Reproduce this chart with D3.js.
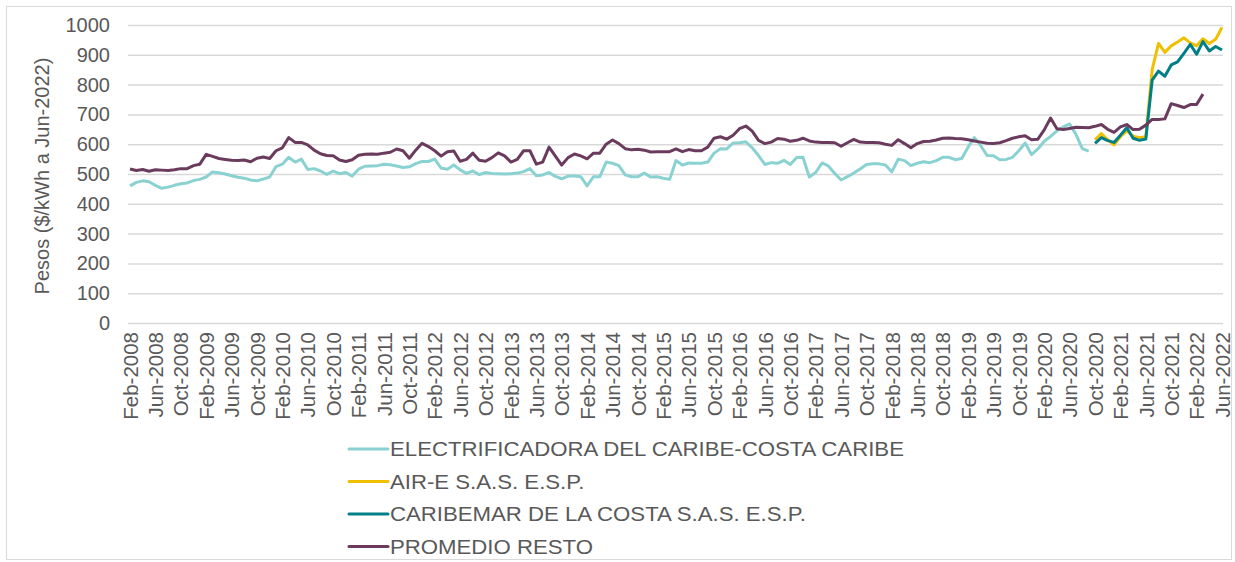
<!DOCTYPE html>
<html>
<head>
<meta charset="utf-8">
<script src="https://cdn.jsdelivr.net/npm/d3@7"></script>
<style>
  body { margin: 0; background: #fff; }
  text { font-family: "Liberation Sans", Arial, sans-serif; fill: #595959; }
</style>
</head>
<body>
<svg id="chart"></svg>
<script>
const width = 1235, height = 562;

// Monthly categories Feb-2008 .. Jun-2022
const monthNames = ["Jan", "Feb", "Mar", "Apr", "May", "Jun", "Jul", "Aug", "Sep", "Oct", "Nov", "Dec"];
const months = d3.timeMonth.range(new Date(2008, 1, 1), new Date(2022, 6, 1))
    .map(d => monthNames[d.getMonth()] + "-" + d.getFullYear());

const yTicks = [0, 100, 200, 300, 400, 500, 600, 700, 800, 900, 1000];

// ELECTRIFICADORA DEL CARIBE-COSTA CARIBE, from Feb-2008
const electricaribe = [
  460, 472, 477, 474, 462, 452, 456, 462, 467, 470, 478, 482, 490, 507, 504, 500,
  494, 489, 486, 480, 477, 483, 490, 525, 533, 556, 540, 550, 515, 518, 510, 499,
  510, 501, 505, 493, 516, 526, 527, 528, 533, 531, 527, 522, 524, 535, 542, 542,
  550, 520, 516, 530, 514, 502, 510, 498, 505, 502, 501, 500, 501, 503, 508, 518,
  494, 497, 505, 492, 484, 493, 493, 491, 460, 491, 491, 540, 536, 528, 497, 491,
  491, 503, 490, 491, 486, 482, 545, 530, 537, 536, 536, 540, 570, 585, 584, 604,
  605, 608, 588, 562, 532, 538, 536, 546, 532, 555, 556, 490, 505, 537, 527, 502,
  480, 491, 503, 517, 532, 534, 534, 530, 507, 550, 545, 528, 536, 541, 538, 545,
  556, 556, 548, 552, 590, 622, 595, 562, 561, 548, 549, 556, 578, 604, 565, 584,
  610, 626, 645, 658, 668, 633, 585, 577
];

// AIR-E S.A.S. E.S.P., from Oct-2020
const airE = [
  615, 636, 615, 598, 625, 645, 627, 622, 625, 850, 938, 908, 930, 943, 957, 940,
  930, 954, 938, 952, 992
];

// CARIBEMAR DE LA COSTA S.A.S. E.S.P., from Oct-2020
const caribemar = [
  603, 622, 612, 606, 630, 655, 620, 613, 617, 815, 845, 828, 866, 876, 905, 935,
  902, 944, 913, 928, 916
];

// PROMEDIO RESTO, from Feb-2008
const promedioResto = [
  517, 512, 515, 509, 514, 513, 512, 514, 518, 518, 528, 533, 566, 559, 552, 549,
  546, 545, 547, 541, 553, 557, 552, 578, 588, 622, 606, 606, 598, 580, 568, 562,
  561, 547, 542, 548, 563, 566, 567, 566, 570, 573, 584, 578, 553, 580, 603, 592,
  578, 560, 575, 577, 543, 549, 570, 546, 543, 555, 571, 561, 540, 549, 578, 578,
  533, 540, 590, 560, 530, 555, 567, 561, 551, 570, 570, 600, 614, 602, 585, 581,
  583, 580, 574, 575, 575, 575, 584, 575, 582, 578, 578, 590, 620, 625, 617, 630,
  652, 661, 644, 613, 602, 607, 619, 617, 610, 613, 620, 611, 607, 606, 606, 605,
  593, 605, 616, 607, 606, 606, 605, 600, 596, 615, 602, 588, 602, 609, 610, 614,
  620, 621, 619, 618, 615, 611, 607, 603, 602, 605, 612, 620, 625, 628, 615, 617,
  648, 688, 652, 649, 653, 657, 656, 655, 660, 666, 650, 640, 658, 666, 649, 650,
  664, 683, 683, 685, 736, 730, 723, 733, 733, 768
];

const series = [
  { name: "ELECTRIFICADORA DEL CARIBE-COSTA CARIBE", start: "Feb-2008", values: electricaribe, color: "#8ad2d2" },
  { name: "AIR-E S.A.S. E.S.P.", start: "Oct-2020", values: airE, color: "#efc000" },
  { name: "CARIBEMAR DE LA COSTA S.A.S. E.S.P.", start: "Oct-2020", values: caribemar, color: "#007f87" },
  { name: "PROMEDIO RESTO", start: "Feb-2008", values: promedioResto, color: "#6a3b5d" }
];

const svg = d3.select("#chart")
    .attr("width", width)
    .attr("height", height);

// chart frame
svg.append("rect")
    .attr("x", 6.5).attr("y", 6.5)
    .attr("width", width - 10).attr("height", height - 9)
    .attr("fill", "none")
    .attr("stroke", "#d9d9d9");

const plotLeft = 128, plotRight = 1223;

const x = d3.scalePoint()
    .domain(months)
    .range([130, 1222]);

const y = d3.scaleLinear()
    .domain([0, 1000])
    .range([323, 25]);

// y axis with gridlines
const yAxis = svg.append("g")
    .attr("transform", `translate(${plotLeft},0)`)
    .call(d3.axisLeft(y).tickValues(yTicks).tickFormat(d3.format("d"))
        .tickSize(-(plotRight - plotLeft)).tickPadding(18));
yAxis.select(".domain").remove();
yAxis.selectAll("line").attr("stroke", "#d9d9d9").attr("stroke-width", 1.5);
yAxis.selectAll("text").style("font-size", "20px").style("fill", "#595959");

// x axis labels, every 4 months
const xAxis = svg.append("g")
    .attr("transform", "translate(0,323)")
    .call(d3.axisBottom(x).tickValues(months.filter((d, i) => i % 4 === 0)).tickSize(0));
xAxis.select(".domain").remove();
xAxis.selectAll("text")
    .attr("transform", "rotate(-90)")
    .attr("x", -9)
    .attr("y", 0)
    .attr("dy", "0.35em")
    .style("text-anchor", "end")
    .style("font-size", "20.5px")
    .style("fill", "#595959");

// y axis title
svg.append("text")
    .attr("transform", "translate(42,176) rotate(-90)")
    .attr("text-anchor", "middle")
    .attr("dy", "0.35em")
    .style("font-size", "20px")
    .text("Pesos ($/kWh a Jun-2022)");

// lines
const line = d3.line()
    .x(d => x(d.month))
    .y(d => y(d.value));

series.forEach(s => {
    const offset = months.indexOf(s.start);
    const pts = s.values.map((v, i) => ({ month: months[offset + i], value: v }));
    svg.append("path")
        .datum(pts)
        .attr("fill", "none")
        .attr("stroke", s.color)
        .attr("stroke-width", 3)
        .attr("stroke-linejoin", "round")
        .attr("d", line);
});

// legend (text is drawn a little wider, as in the original)
const legend = svg.append("g");
series.forEach((s, i) => {
    const ly = 449 + i * 32.5;
    legend.append("line")
        .attr("x1", 349).attr("x2", 388)
        .attr("y1", ly).attr("y2", ly)
        .attr("stroke", s.color)
        .attr("stroke-width", 3)
        .attr("stroke-linecap", "round");
    legend.append("text")
        .attr("transform", `translate(390,${ly}) scale(1.11,1)`)
        .attr("dy", "0.35em")
        .style("font-size", "20px")
        .text(s.name);
});
</script>
</body>
</html>
